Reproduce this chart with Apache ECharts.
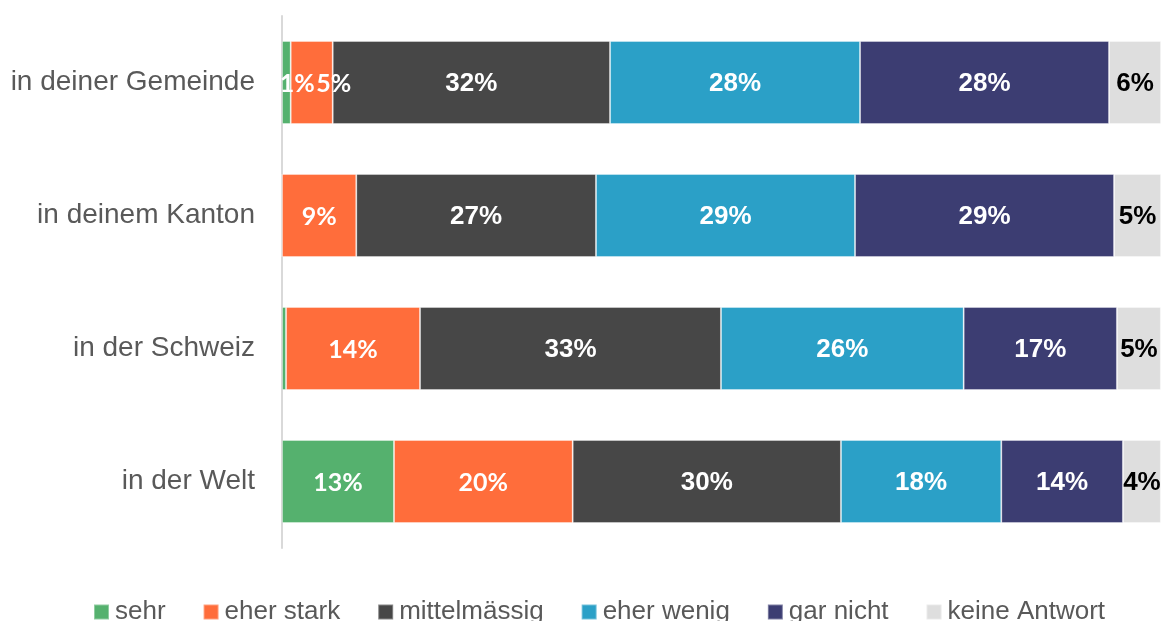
<!DOCTYPE html>
<html>
<head>
<meta charset="utf-8">
<script src="https://cdn.jsdelivr.net/npm/echarts@6/dist/echarts.min.js"></script>
<style>
  html, body { margin: 0; padding: 0; background: #fff; }
  #chart { width: 1162px; height: 621px; }
</style>
</head>
<body>
<div id="chart"></div>
<script>
// Kategorien (von oben nach unten)
const categories = ['in deiner Gemeinde', 'in deinem Kanton', 'in der Schweiz', 'in der Welt']
const seriesNames = ['sehr', 'eher stark', 'mittelmässig', 'eher wenig', 'gar nicht', 'keine Antwort']

// Anteile in Prozent (aus der Balkenlänge geschätzt)
const sehr = [0.99, 0, 0.46, 12.74]
const eherStark = [4.78, 8.45, 15.24, 20.33]
const mittelmaessig = [31.55, 27.27, 34.24, 30.52]
const eherWenig = [28.44, 29.47, 27.61, 18.24]
const garNicht = [28.33, 29.47, 17.44, 13.84]
const keineAntwort = [5.92, 5.35, 5.0, 4.32]

// angezeigte Beschriftungen (null = keine)
const sehrLabels = ['1%', null, null, '13%']
const eherStarkLabels = ['5%', '9%', '14%', '20%']
const mittelLabels = ['32%', '27%', '33%', '30%']
const eherWenigLabels = ['28%', '29%', '26%', '18%']
const garNichtLabels = ['28%', '29%', '17%', '14%']
const keineLabels = ['6%', '5%', '5%', '4%']

const values = [sehr, eherStark, mittelmaessig, eherWenig, garNicht, keineAntwort]
const labels = [sehrLabels, eherStarkLabels, mittelLabels, eherWenigLabels, garNichtLabels, keineLabels]
const colors = ['#55b16e', '#ff6d3b', '#474747', '#2ba0c7', '#3c3d72', '#dedede']
const labelColors = ['#fff', '#fff', '#fff', '#fff', '#fff', '#000']
const labelFonts = ['Lato', 'Lato', '"Liberation Sans", Arial', '"Liberation Sans", Arial', '"Liberation Sans", Arial', '"Liberation Sans", Arial']

// schmale Segmente in der ersten Zeile: Beschriftung nach rechts verschoben
const firstRowOffsets = [[11, 1], [22, 1]]

const chart = echarts.init(document.getElementById('chart'), null, { renderer: 'canvas' })

chart.setOption({
  animation: false,
  color: colors,
  legend: {
    data: seriesNames,
    left: 93,
    top: 597,
    padding: 0,
    itemWidth: 15,
    itemHeight: 15,
    itemGap: 37,
    icon: 'rect',
    textStyle: {
      color: '#595959',
      fontSize: 26,
      fontFamily: '"Liberation Sans", Arial, sans-serif',
      lineHeight: 30,
      padding: [0, 0, 0, 1]
    }
  },
  grid: {
    left: 282,
    right: 1,
    top: 16,
    bottom: 73
  },
  xAxis: {
    type: 'value',
    min: 0,
    max: 100,
    show: false
  },
  yAxis: {
    type: 'category',
    inverse: true,
    data: categories,
    axisLine: { lineStyle: { color: '#d9d9d9', width: 2 } },
    axisTick: { show: false },
    axisLabel: {
      color: '#595959',
      fontSize: 28,
      fontFamily: '"Liberation Sans", Arial, sans-serif',
      margin: 27,
      padding: [4, 0, 0, 0]
    }
  },
  series: seriesNames.map((name, i) => ({
    name,
    type: 'bar',
    stack: 'total',
    barWidth: 83,
    data: values[i].map((v, j) => (j === 0 && firstRowOffsets[i])
      ? { value: v, label: { offset: firstRowOffsets[i] } }
      : v),
    itemStyle: {
      color: colors[i],
      borderColor: 'rgba(255,255,255,0.35)',
      borderWidth: 1
    },
    label: {
      show: true,
      position: 'inside',
      offset: [0, 1],
      color: labelColors[i],
      fontSize: i < 2 ? 25 : 26,
      fontWeight: 'bold',
      fontFamily: labelFonts[i],
      formatter: (p) => labels[i][p.dataIndex] || ''
    }
  }))
})
</script>
</body>
</html>
